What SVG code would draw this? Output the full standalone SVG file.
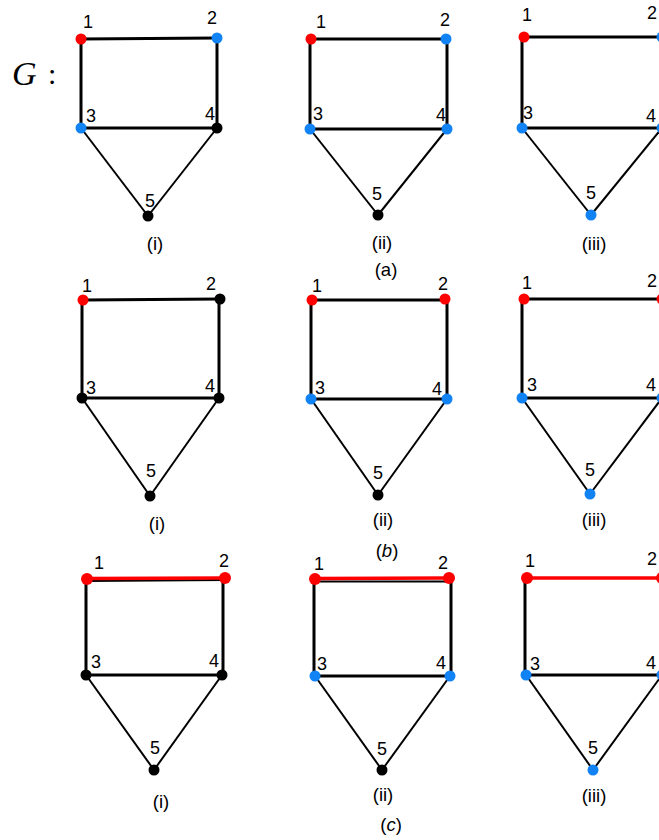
<svg xmlns="http://www.w3.org/2000/svg" width="659" height="840" viewBox="0 0 659 840">
<style>
.e{stroke:#000;stroke-width:3;fill:none}
.d{stroke:#000;stroke-width:2;fill:none}
.r{stroke:#f00;stroke-width:3.5;fill:none}
.k{fill:#000}.R{fill:#f00}.B{fill:#1283f5}
text{font-family:"Liberation Sans",Arial,sans-serif;fill:#000}
.n{font-size:18px;text-anchor:middle}
.c{font-size:18.5px;text-anchor:middle}
</style>
<rect width="659" height="840" fill="#fff"/>
<g id="title"><text x="12" y="85" style="font-family:'Liberation Serif',serif;font-style:italic;font-size:34px">G</text><text x="48" y="84" style="font-family:'Liberation Serif',serif;font-size:30px">:</text></g>
<g id="connectors">
<line class="e" x1="81" y1="39" x2="217" y2="38"/><line class="e" x1="81" y1="39" x2="81" y2="128"/><line class="e" x1="217" y1="38" x2="217" y2="128"/><line class="e" x1="81" y1="128" x2="217" y2="128"/><line class="d" x1="81" y1="128" x2="148" y2="216"/><line class="d" x1="217" y1="128" x2="148" y2="216"/>
<line class="e" x1="311" y1="39" x2="446" y2="39"/><line class="e" x1="310" y1="39" x2="310" y2="129"/><line class="e" x1="447" y1="39" x2="447" y2="129"/><line class="e" x1="310" y1="129" x2="447" y2="129"/><line class="d" x1="310" y1="129" x2="378" y2="215"/><line class="d" x1="447" y1="129" x2="378" y2="215"/>
<line class="e" x1="524" y1="37" x2="662" y2="37"/><line class="e" x1="522" y1="37" x2="522" y2="128"/><line class="e" x1="522" y1="128" x2="662" y2="128"/><line class="d" x1="522" y1="128" x2="591" y2="215"/><line class="d" x1="662" y1="128" x2="591" y2="215"/>
<line class="e" x1="83" y1="300" x2="220" y2="299"/><line class="e" x1="82" y1="300" x2="82" y2="398"/><line class="e" x1="219" y1="299" x2="219" y2="398"/><line class="e" x1="82" y1="398" x2="219" y2="398"/><line class="d" x1="82" y1="398" x2="150" y2="496"/><line class="d" x1="219" y1="398" x2="150" y2="496"/>
<line class="e" x1="312" y1="300" x2="445" y2="300"/><line class="e" x1="311" y1="300" x2="311" y2="399"/><line class="e" x1="447" y1="300" x2="447" y2="399"/><line class="e" x1="311" y1="399" x2="447" y2="399"/><line class="d" x1="311" y1="399" x2="378" y2="495"/><line class="d" x1="447" y1="399" x2="378" y2="495"/>
<line class="e" x1="524" y1="299" x2="662" y2="299"/><line class="e" x1="522" y1="299" x2="522" y2="398"/><line class="e" x1="522" y1="398" x2="662" y2="398"/><line class="d" x1="522" y1="398" x2="590" y2="494"/><line class="d" x1="662" y1="398" x2="590" y2="494"/>
<line class="d" x1="87" y1="581" x2="225" y2="580"/><line class="r" x1="87" y1="578.5" x2="225" y2="578"/><line class="e" x1="86" y1="579" x2="86" y2="675"/><line class="e" x1="223" y1="578" x2="223" y2="675"/><line class="e" x1="86" y1="675" x2="222" y2="675"/><line class="d" x1="86" y1="675" x2="154" y2="770"/><line class="d" x1="222" y1="675" x2="154" y2="770"/>
<line class="d" x1="315" y1="581.5" x2="449" y2="581.5"/><line class="r" x1="315" y1="578.5" x2="449" y2="578"/><line class="e" x1="314" y1="579" x2="314" y2="676"/><line class="e" x1="451" y1="578" x2="451" y2="676"/><line class="e" x1="315" y1="676" x2="450" y2="676"/><line class="d" x1="315" y1="676" x2="382" y2="770"/><line class="d" x1="450" y1="676" x2="382" y2="770"/>
<line class="r" x1="527" y1="578" x2="662" y2="578"/><line class="e" x1="525" y1="578" x2="525" y2="675"/><line class="e" x1="526" y1="675" x2="662" y2="675"/><line class="d" x1="526" y1="675" x2="593" y2="770"/><line class="d" x1="662" y1="675" x2="593" y2="770"/>
</g>
<g id="ai-1"><circle class="R" cx="81" cy="39" r="5.5"/><text class="n" x="88" y="27.5">1</text></g>
<g id="ai-2"><circle class="B" cx="217" cy="38" r="5.5"/><text class="n" x="212" y="23.5">2</text></g>
<g id="ai-3"><circle class="B" cx="81" cy="128" r="5.5"/><text class="n" x="91" y="121.5">3</text></g>
<g id="ai-4"><circle class="k" cx="217" cy="128" r="5.5"/><text class="n" x="210" y="119.5">4</text></g>
<g id="ai-5"><circle class="k" cx="148" cy="216" r="5.5"/><text class="n" x="150" y="206.5">5</text></g>
<g id="ai-cap"><text class="c" x="155" y="250">(i)</text></g>
<g id="aii-1"><circle class="R" cx="311" cy="39" r="5.5"/><text class="n" x="321" y="27.5">1</text></g>
<g id="aii-2"><circle class="B" cx="446" cy="39" r="5.5"/><text class="n" x="445" y="25.5">2</text></g>
<g id="aii-3"><circle class="B" cx="310" cy="129" r="5.5"/><text class="n" x="318" y="119.5">3</text></g>
<g id="aii-4"><circle class="B" cx="447" cy="129" r="5.5"/><text class="n" x="441" y="120.5">4</text></g>
<g id="aii-5"><circle class="k" cx="378" cy="215" r="5.5"/><text class="n" x="377" y="199.5">5</text></g>
<g id="aii-cap"><text class="c" x="382" y="249">(ii)</text></g>
<g id="a-cap"><text class="c" x="386" y="276">(a)</text></g>
<g id="aiii-1"><circle class="R" cx="524" cy="37" r="5.5"/><text class="n" x="527" y="20.5">1</text></g>
<g id="aiii-2"><circle class="B" cx="662" cy="37" r="5.5"/><text class="n" x="652" y="18.5">2</text></g>
<g id="aiii-3"><circle class="B" cx="522" cy="128" r="5.5"/><text class="n" x="528" y="118.5">3</text></g>
<g id="aiii-4"><circle class="B" cx="662" cy="128" r="5.5"/><text class="n" x="651" y="121.5">4</text></g>
<g id="aiii-5"><circle class="B" cx="591" cy="215" r="5.5"/><text class="n" x="591" y="198.5">5</text></g>
<g id="aiii-cap"><text class="c" x="594" y="250">(iii)</text></g>
<g id="bi-1"><circle class="R" cx="83" cy="300" r="5.5"/><text class="n" x="87" y="291.5">1</text></g>
<g id="bi-2"><circle class="k" cx="220" cy="299" r="5.5"/><text class="n" x="211" y="289.5">2</text></g>
<g id="bi-3"><circle class="k" cx="82" cy="398" r="5.5"/><text class="n" x="91" y="393.5">3</text></g>
<g id="bi-4"><circle class="k" cx="219" cy="398" r="5.5"/><text class="n" x="210" y="391.5">4</text></g>
<g id="bi-5"><circle class="k" cx="150" cy="496" r="5.5"/><text class="n" x="151" y="476.5">5</text></g>
<g id="bi-cap"><text class="c" x="157" y="530">(i)</text></g>
<g id="bii-1"><circle class="R" cx="312" cy="300" r="5.5"/><text class="n" x="317" y="291.5">1</text></g>
<g id="bii-2"><circle class="R" cx="445" cy="299" r="5.5"/><text class="n" x="443" y="289.5">2</text></g>
<g id="bii-3"><circle class="B" cx="311" cy="399" r="5.5"/><text class="n" x="320" y="393.5">3</text></g>
<g id="bii-4"><circle class="B" cx="447" cy="399" r="5.5"/><text class="n" x="437" y="394.5">4</text></g>
<g id="bii-5"><circle class="k" cx="378" cy="495" r="5.5"/><text class="n" x="378" y="478.5">5</text></g>
<g id="bii-cap"><text class="c" x="383" y="526">(ii)</text></g>
<g id="b-cap"><text class="c" x="387" y="557">(<tspan font-style="italic">b</tspan>)</text></g>
<g id="biii-1"><circle class="R" cx="524" cy="299" r="5.5"/><text class="n" x="527" y="288.5">1</text></g>
<g id="biii-2"><circle class="R" cx="662" cy="299" r="5.5"/><text class="n" x="652" y="286.5">2</text></g>
<g id="biii-3"><circle class="B" cx="522" cy="398" r="5.5"/><text class="n" x="532" y="390.5">3</text></g>
<g id="biii-4"><circle class="B" cx="662" cy="398" r="5.5"/><text class="n" x="651" y="390.5">4</text></g>
<g id="biii-5"><circle class="B" cx="590" cy="494" r="5.5"/><text class="n" x="590" y="475.5">5</text></g>
<g id="biii-cap"><text class="c" x="594" y="526">(iii)</text></g>
<g id="ci-1"><circle class="R" cx="87" cy="579" r="6"/><text class="n" x="99" y="568.5">1</text></g>
<g id="ci-2"><circle class="R" cx="225" cy="578" r="6"/><text class="n" x="224" y="566.5">2</text></g>
<g id="ci-3"><circle class="k" cx="86" cy="675" r="5.5"/><text class="n" x="96" y="667.5">3</text></g>
<g id="ci-4"><circle class="k" cx="222" cy="675" r="5.5"/><text class="n" x="214" y="666.5">4</text></g>
<g id="ci-5"><circle class="k" cx="154" cy="770" r="5.5"/><text class="n" x="155" y="753.5">5</text></g>
<g id="ci-cap"><text class="c" x="161" y="808">(i)</text></g>
<g id="cii-1"><circle class="R" cx="315" cy="579" r="6"/><text class="n" x="319" y="569.5">1</text></g>
<g id="cii-2"><circle class="R" cx="449" cy="578" r="6"/><text class="n" x="443" y="568.5">2</text></g>
<g id="cii-3"><circle class="B" cx="315" cy="676" r="5.5"/><text class="n" x="322" y="669.5">3</text></g>
<g id="cii-4"><circle class="B" cx="450" cy="676" r="5.5"/><text class="n" x="441" y="668.5">4</text></g>
<g id="cii-5"><circle class="k" cx="382" cy="770" r="5.5"/><text class="n" x="382" y="754.5">5</text></g>
<g id="cii-cap"><text class="c" x="383" y="801">(ii)</text></g>
<g id="c-cap"><text class="c" x="391" y="831">(<tspan font-style="italic">c</tspan>)</text></g>
<g id="ciii-1"><circle class="R" cx="527" cy="578" r="6"/><text class="n" x="530" y="566.5">1</text></g>
<g id="ciii-2"><circle class="R" cx="662" cy="578" r="6"/><text class="n" x="652" y="564.5">2</text></g>
<g id="ciii-3"><circle class="B" cx="526" cy="675" r="5.5"/><text class="n" x="535" y="669.5">3</text></g>
<g id="ciii-4"><circle class="B" cx="662" cy="675" r="5.5"/><text class="n" x="651" y="668.5">4</text></g>
<g id="ciii-5"><circle class="B" cx="593" cy="770" r="5.5"/><text class="n" x="593" y="753.5">5</text></g>
<g id="ciii-cap"><text class="c" x="594" y="802">(iii)</text></g>
</svg>
